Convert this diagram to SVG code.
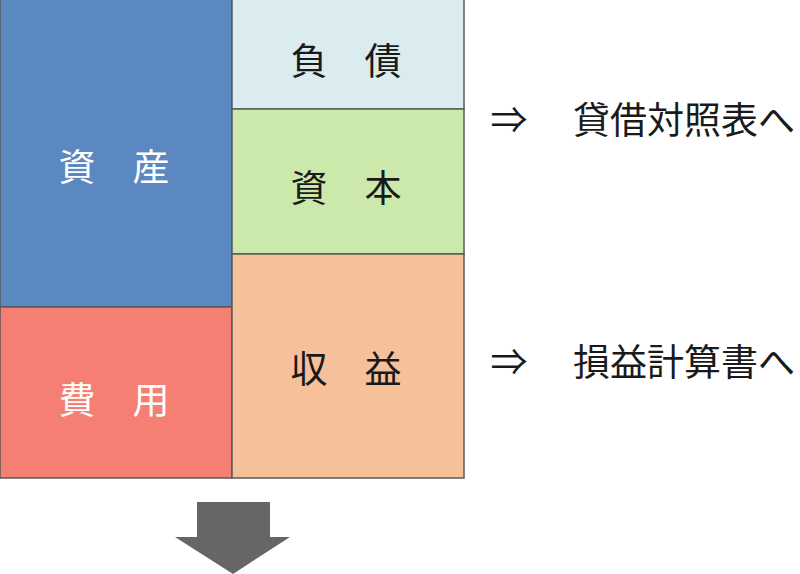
<svg xmlns="http://www.w3.org/2000/svg" width="800" height="574" viewBox="0 0 800 574">
<style>
.box{stroke:#5a5a5a;stroke-width:1.5}
.t{font-family:"Noto Sans CJK JP","Noto Sans CJK SC",sans-serif;font-size:37px;text-anchor:middle;dominant-baseline:central}
.w{fill:#ffffff}
.k{fill:#1a1a1a}
</style>
<rect width="800" height="574" fill="#ffffff"/>
<g id="shisan"><rect class="box" x="0" y="-2" width="232" height="309" fill="#5B88C0"/><text class="t w" x="114" y="165">資　産</text></g>
<g id="hiyou"><rect class="box" x="0" y="307" width="232" height="171" fill="#F47F72"/><text class="t w" x="114" y="398">費　用</text></g>
<g id="fusai"><rect class="box" x="232" y="-2" width="232" height="111" fill="#DAECF0"/><text class="t k" x="346" y="59">負　債</text></g>
<g id="shihon"><rect class="box" x="232" y="109" width="232" height="145" fill="#CCE9AC"/><text class="t k" x="346" y="186">資　本</text></g>
<g id="shueki"><rect class="box" x="232" y="254" width="232" height="224" fill="#F6C09A"/><text class="t k" x="346" y="367">収　益</text></g>
<g id="labels">
<text class="t k" x="509" y="118">⇒</text>
<text class="t k" x="684" y="118">貸借対照表へ</text>
<text class="t k" x="509" y="360">⇒</text>
<text class="t k" x="684" y="360">損益計算書へ</text>
</g>
<g id="connectors"><polygon points="197,502 270,502 270,537 290,537 233,574 175,537 197,537" fill="#666666"/></g>
</svg>
